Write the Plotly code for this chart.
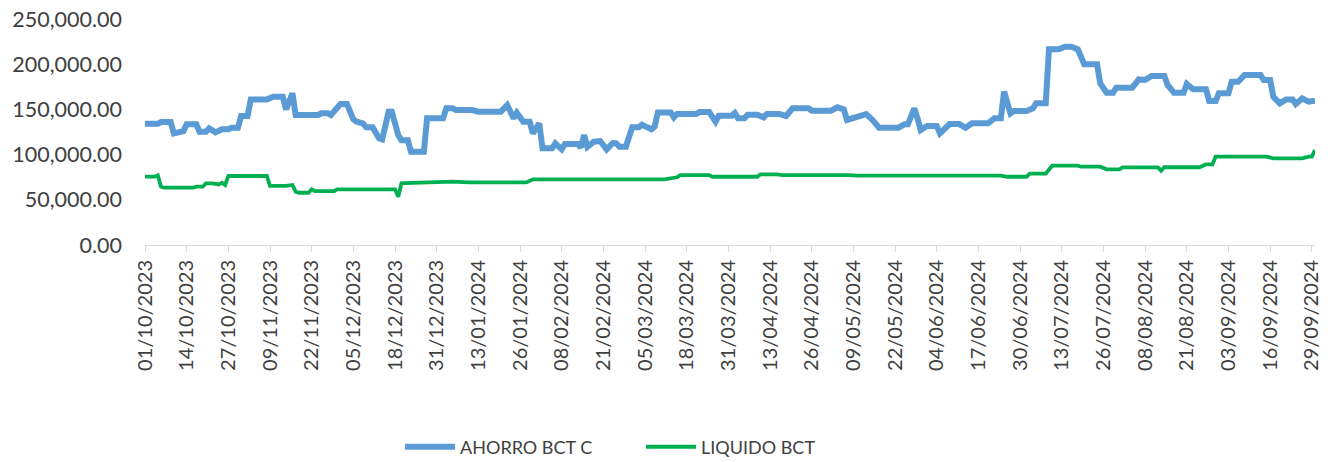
import plotly.graph_objects as go
import pandas as pd

ahorro_dates = [
    "2023-10-01", "2023-10-05", "2023-10-06", "2023-10-09", "2023-10-10", "2023-10-12", "2023-10-13",
    "2023-10-14", "2023-10-17", "2023-10-18", "2023-10-20", "2023-10-21", "2023-10-23", "2023-10-25",
    "2023-10-27", "2023-10-28", "2023-10-30", "2023-10-31", "2023-11-02", "2023-11-03", "2023-11-08",
    "2023-11-10", "2023-11-13", "2023-11-14", "2023-11-16", "2023-11-17", "2023-11-24", "2023-11-25",
    "2023-11-27", "2023-11-28", "2023-11-29", "2023-12-01", "2023-12-03", "2023-12-05", "2023-12-06",
    "2023-12-08", "2023-12-09", "2023-12-11", "2023-12-13", "2023-12-14", "2023-12-16", "2023-12-17",
    "2023-12-19", "2023-12-20", "2023-12-22", "2023-12-23", "2023-12-27", "2023-12-28", "2024-01-02",
    "2024-01-03", "2024-01-05", "2024-01-06", "2024-01-11", "2024-01-13", "2024-01-20", "2024-01-22",
    "2024-01-24", "2024-01-25", "2024-01-27", "2024-01-29", "2024-01-30", "2024-02-01", "2024-02-02",
    "2024-02-05", "2024-02-06", "2024-02-08", "2024-02-09", "2024-02-13", "2024-02-14", "2024-02-15",
    "2024-02-16", "2024-02-18", "2024-02-20", "2024-02-22", "2024-02-24", "2024-02-25", "2024-02-26",
    "2024-02-28", "2024-03-01", "2024-03-03", "2024-03-04", "2024-03-07", "2024-03-08", "2024-03-09",
    "2024-03-13", "2024-03-14", "2024-03-15", "2024-03-21", "2024-03-22", "2024-03-25", "2024-03-27",
    "2024-03-28", "2024-04-01", "2024-04-02", "2024-04-03", "2024-04-05", "2024-04-06", "2024-04-09",
    "2024-04-11", "2024-04-12", "2024-04-16", "2024-04-18", "2024-04-20", "2024-04-25", "2024-04-26",
    "2024-05-02", "2024-05-04", "2024-05-06", "2024-05-07", "2024-05-10", "2024-05-13", "2024-05-15",
    "2024-05-17", "2024-05-23", "2024-05-25", "2024-05-26", "2024-05-28", "2024-05-29", "2024-05-30",
    "2024-06-01", "2024-06-04", "2024-06-05", "2024-06-08", "2024-06-11", "2024-06-13", "2024-06-15",
    "2024-06-20", "2024-06-22", "2024-06-24", "2024-06-25", "2024-06-27", "2024-06-28", "2024-07-02",
    "2024-07-04", "2024-07-05", "2024-07-08", "2024-07-09", "2024-07-12", "2024-07-14", "2024-07-16",
    "2024-07-18", "2024-07-20", "2024-07-24", "2024-07-25", "2024-07-27", "2024-07-29", "2024-07-30",
    "2024-08-04", "2024-08-06", "2024-08-08", "2024-08-10", "2024-08-14", "2024-08-15", "2024-08-17",
    "2024-08-20", "2024-08-21", "2024-08-23", "2024-08-27", "2024-08-28", "2024-08-30", "2024-08-31",
    "2024-09-03", "2024-09-04", "2024-09-06", "2024-09-08", "2024-09-13", "2024-09-14", "2024-09-16",
    "2024-09-17", "2024-09-19", "2024-09-21", "2024-09-23", "2024-09-24", "2024-09-26", "2024-09-28",
    "2024-09-30",
]
ahorro_values = [
    134000, 134000, 136000, 136000, 123500, 126000, 126000,
    133500, 133500, 125300, 125300, 129000, 124600, 128000,
    128000, 129700, 129700, 142700, 142700, 161000, 161000,
    164000, 164000, 150000, 167800, 143800, 143800, 145700,
    145700, 143800, 147500, 156000, 156000, 139000, 136400,
    134600, 130200, 130200, 118000, 116900, 147500, 147500,
    121700, 116000, 116000, 103200, 103200, 140100, 140100,
    151200, 151200, 149300, 149300, 147500, 147500, 154800,
    140100, 146300, 136400, 136400, 123500, 134600, 107000,
    107000, 112500, 105800, 111700, 111700, 108000, 121700,
    108700, 114300, 115000, 105800, 113000, 112500, 108700,
    108700, 130200, 130200, 133000, 128000, 131000, 146700,
    146700, 141200, 144900, 144900, 147100, 147100, 136400,
    143000, 143000, 146000, 140100, 140100, 144100, 144100,
    141200, 144900, 144900, 142700, 151200, 151200, 148600,
    148600, 152300, 150000, 138300, 141200, 144900, 138300,
    129700, 129700, 133500, 133500, 151200, 140100, 127200,
    131600, 131600, 123500, 133800, 133800, 129700, 134600,
    134600, 140100, 140100, 169600, 145700, 148200, 148200,
    151200, 156700, 156700, 216400, 216400, 219300, 219300,
    216400, 199900, 199900, 178800, 168500, 168500, 174000,
    174000, 183200, 182500, 186900, 186900, 177000, 168500,
    168500, 178000, 172200, 172200, 159300, 159300, 167800,
    167800, 180600, 180600, 188000, 188000, 182500, 182500,
    164000, 156700, 161000, 161000, 156000, 162200, 158500,
    159500,
]

liquido_dates = [
    "2023-10-01", "2023-10-04", "2023-10-05", "2023-10-06", "2023-10-07", "2023-10-16", "2023-10-17",
    "2023-10-19", "2023-10-20", "2023-10-22", "2023-10-24", "2023-10-25", "2023-10-26", "2023-10-27",
    "2023-11-08", "2023-11-09", "2023-11-14", "2023-11-16", "2023-11-17", "2023-11-18", "2023-11-21",
    "2023-11-22", "2023-11-23", "2023-11-29", "2023-11-30", "2023-12-18", "2023-12-19", "2023-12-20",
    "2023-12-21", "2024-01-05", "2024-01-10", "2024-01-28", "2024-01-30", "2024-03-11", "2024-03-15",
    "2024-03-16", "2024-03-25", "2024-03-26", "2024-04-09", "2024-04-10", "2024-04-15", "2024-04-17",
    "2024-05-08", "2024-05-10", "2024-06-24", "2024-06-26", "2024-07-02", "2024-07-03", "2024-07-08",
    "2024-07-10", "2024-07-18", "2024-07-19", "2024-07-25", "2024-07-27", "2024-07-31", "2024-08-01",
    "2024-08-12", "2024-08-13", "2024-08-14", "2024-08-25", "2024-08-27", "2024-08-29", "2024-08-30",
    "2024-09-15", "2024-09-17", "2024-09-26", "2024-09-28", "2024-09-29", "2024-09-30",
]
liquido_values = [
    75600, 75600, 77000, 64500, 63400, 63400, 64500,
    64500, 68200, 68200, 67000, 68800, 66400, 76300,
    76300, 65300, 65300, 66400, 59000, 57800, 57800,
    61600, 59700, 59700, 61600, 61600, 53400, 68200,
    68500, 70000, 69300, 69300, 72700, 72700, 74900,
    77400, 77400, 75500, 75500, 78200, 78200, 77400,
    77400, 76700, 76700, 75500, 75500, 79000, 79000,
    87700, 87700, 86600, 86600, 83700, 83700, 85900,
    85900, 82200, 86000, 86000, 89200, 89200, 97700,
    97700, 95900, 95900, 97700, 97700, 105000,
]

series_names = ["AHORRO BCT C", "LIQUIDO BCT"]
y_ticks = [0, 50000, 100000, 150000, 200000, 250000]
x_start, x_end = "2023-10-01", "2024-09-30"
x_ticks = pd.date_range(x_start, x_end, freq="13D")

text_color = "#404040"
font_family = "Lato, 'Liberation Sans', sans-serif"

fig = go.Figure()
fig.add_trace(go.Scatter(
    x=ahorro_dates, y=ahorro_values, mode="lines", name=series_names[0],
    line=dict(color="#5B9BD5", width=6),
))
fig.add_trace(go.Scatter(
    x=liquido_dates, y=liquido_values, mode="lines", name=series_names[1],
    line=dict(color="#00B050", width=3.8),
))

fig.update_layout(
    width=1332, height=462,
    margin=dict(l=145, r=17, t=19, b=217, autoexpand=False),
    paper_bgcolor="white", plot_bgcolor="white",
    font=dict(family=font_family, size=20, color=text_color),
    showlegend=True,
    legend=dict(orientation="h", x=0.218, xanchor="left", y=-0.894, yanchor="middle",
                font=dict(size=18, color=text_color), itemwidth=50, tracegroupgap=0,
                entrywidth=176),
)
fig.update_xaxes(
    type="date", range=[x_start, x_end], automargin=False,
    tickvals=x_ticks, tickformat="%d/%m/%Y", tickangle=-90,
    showgrid=False, showline=True, linecolor="#D9D9D9", linewidth=1,
    ticks="outside", ticklen=6, tickcolor="#D9D9D9",
    tickfont=dict(size=20, color=text_color), zeroline=False,
)
fig.update_yaxes(
    range=[0, 250000], tickvals=y_ticks, tickformat=",.2f", automargin=False,
    showgrid=False, showline=False, zeroline=False,
    ticks="", ticklabelstandoff=22, ticklabeloverflow="allow",
    tickfont=dict(size=21.5, color=text_color),
)

# remove the page's default body margin so the figure fills the window exactly
fig.write_html("out.html", config={"displayModeBar": False},
               post_script="document.body.style.margin='0';")
